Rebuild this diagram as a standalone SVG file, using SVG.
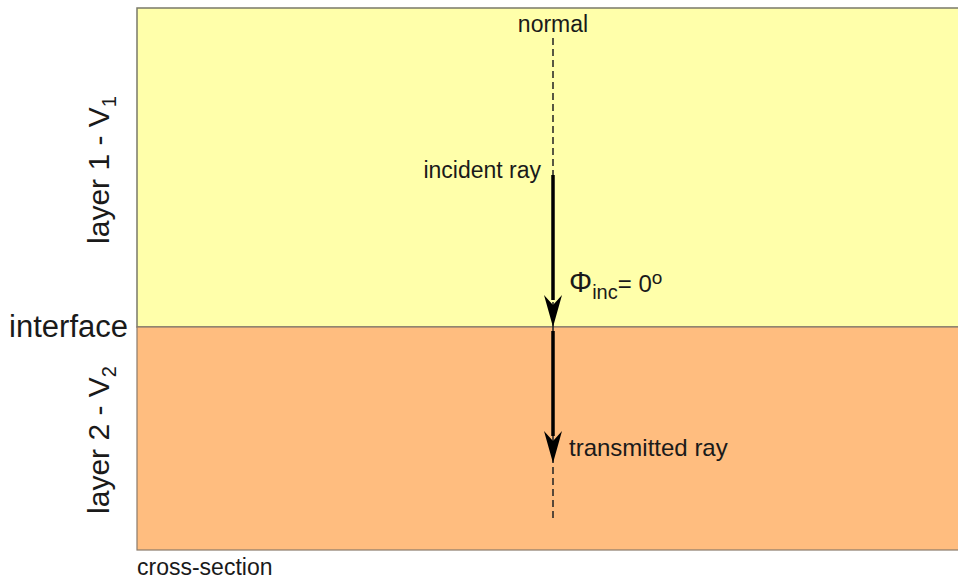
<svg xmlns="http://www.w3.org/2000/svg" width="958" height="581" viewBox="0 0 958 581">
<defs>
<style>
text{font-family:"Liberation Sans",Arial,sans-serif;fill:#1a1a1a}
.ray{stroke:#000;stroke-width:3.5;fill:none}
.norm{stroke:#222;stroke-width:1.5;stroke-dasharray:7,4;fill:none}
.head{fill:#000}
</style>
</defs>
<rect width="958" height="581" fill="#fff"/>
<g id="layer1">
<rect x="137" y="8" width="830" height="319" fill="#FFFFAA" stroke="#7a7a6a" stroke-width="1.5"/>
</g>
<g id="layer2">
<rect x="137" y="327" width="830" height="223" fill="#FFBD7F" stroke="#8a7a6a" stroke-width="1.2"/>
</g>
<g id="connectors">
<line class="norm" x1="553" y1="38" x2="553" y2="520"/>
<line class="ray" x1="553" y1="175" x2="553" y2="300"/>
<path class="head" d="M544,295 L553,305 L562,295 L553,327 Z"/>
<line class="ray" x1="553" y1="331" x2="553" y2="436"/>
<path class="head" d="M544,431 L553,441 L562,431 L553,463 Z"/>
</g>
<g id="labels">
<text x="553" y="32" font-size="23" text-anchor="middle">normal</text>
<text x="541" y="178" font-size="23" text-anchor="end">incident ray</text>
<text x="569" y="292" font-size="29">Φ<tspan font-size="20" dy="7">inc</tspan><tspan font-size="24" dy="-7">= 0</tspan><tspan font-size="19" dy="-8">o</tspan></text>
<text x="569" y="456" font-size="24">transmitted ray</text>
<text x="128" y="337" font-size="31" text-anchor="end">interface</text>
<text transform="translate(109,170) rotate(-90)" font-size="30" text-anchor="middle">layer 1 - V<tspan font-size="20" dy="7">1</tspan></text>
<text transform="translate(109,440) rotate(-90)" font-size="30" text-anchor="middle">layer 2 - V<tspan font-size="20" dy="7">2</tspan></text>
<text x="137" y="575" font-size="23">cross-section</text>
</g>
</svg>
